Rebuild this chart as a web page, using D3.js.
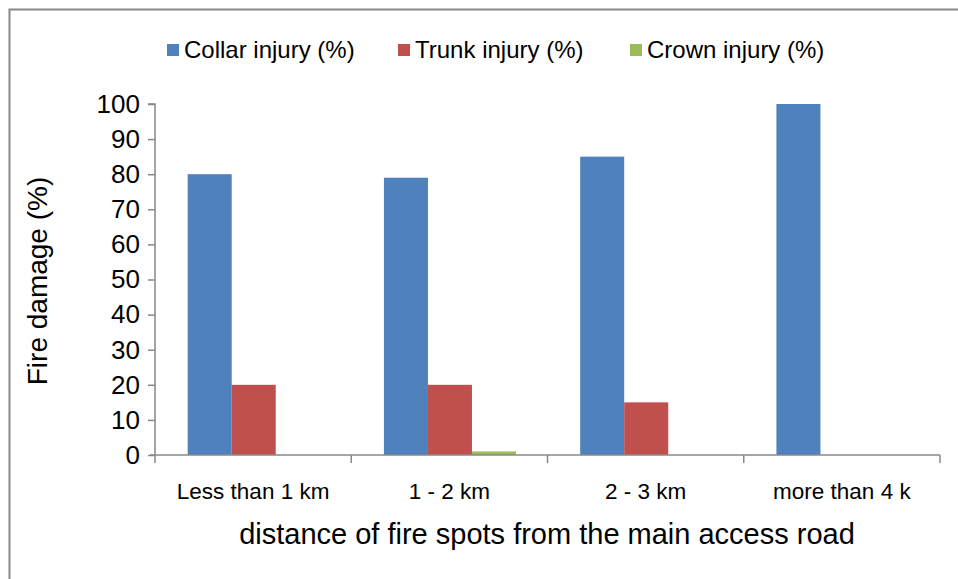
<!DOCTYPE html>
<html><head><meta charset="utf-8">
<script src="https://cdn.jsdelivr.net/npm/d3@7"></script>
<style>body{margin:0;background:#fff}svg{display:block}</style>
</head><body>
<script>
const categories = ["Less than 1 km", "1 - 2 km", "2 - 3 km", "more than 4 k"];
const seriesNames = ["Collar injury (%)", "Trunk injury (%)", "Crown injury (%)"];
const collar = [80, 79, 85, 100];
const trunk = [20, 20, 15, 0];
const crown = [0, 1, 0, 0];
const yTicks = [0, 10, 20, 30, 40, 50, 60, 70, 80, 90, 100];
const colors = ["#4F81BD", "#C0504D", "#9BBB59"];
const seriesValues = [collar, trunk, crown];

const W = 958, H = 579;
const font = "'Liberation Sans', Arial, sans-serif";
const svg = d3.select("body").append("svg").attr("width", W).attr("height", H);

svg.append("rect").attr("x", 9.5).attr("y", 9.5).attr("width", W + 10).attr("height", H + 10)
  .attr("fill", "#fff").attr("stroke", "#888").attr("stroke-width", 2);

const x0 = d3.scaleBand().domain(categories).range([155, 940]);
const y = d3.scaleLinear().domain([0, 100]).range([455, 104]);
const x1 = d3.scaleBand().domain(seriesNames)
  .range([x0.bandwidth() * 0.1665, x0.bandwidth() * 0.8395]);

// bars
categories.forEach((c, i) => {
  seriesNames.forEach((s, j) => {
    const v = seriesValues[j][i];
    if (v <= 0) return;
    svg.append("rect")
      .attr("x", x0(c) + x1(s))
      .attr("y", y(v))
      .attr("width", x1.bandwidth())
      .attr("height", y(0) - y(v))
      .attr("fill", colors[j]);
  });
});

// y axis
const gy = svg.append("g").attr("transform", "translate(155,0)")
  .call(d3.axisLeft(y).tickValues(yTicks).tickSize(7).tickPadding(8));
gy.selectAll("path,line").attr("stroke", "#888").attr("stroke-width", 1.5);
gy.select(".domain").attr("d", `M-7,${y(100)}H0V${y(0)}`);
gy.selectAll("text").attr("font-family", font).attr("font-size", 26).attr("fill", "#000");

// x axis
const gx = svg.append("g").attr("transform", "translate(0,455)");
gx.append("line").attr("x1", 150).attr("x2", x0.range()[1]).attr("y1", 0).attr("y2", 0)
  .attr("stroke", "#888").attr("stroke-width", 1.5);
const bounds = categories.map(c => x0(c)).concat([x0.range()[1]]);
gx.selectAll("line.tk").data(bounds).join("line").attr("class", "tk")
  .attr("x1", d => d).attr("x2", d => d).attr("y1", 0).attr("y2", 8)
  .attr("stroke", "#888").attr("stroke-width", 1.5);
gx.selectAll("text").data(categories).join("text")
  .attr("x", d => x0(d) + x0.bandwidth() / 2).attr("y", 44)
  .attr("text-anchor", "middle").attr("font-family", font).attr("font-size", 22.5)
  .text(d => d);

// titles
svg.append("text").attr("transform", "translate(47,281) rotate(-90)")
  .attr("text-anchor", "middle").attr("font-family", font).attr("font-size", 28)
  .text("Fire damage (%)");
svg.append("text").attr("x", 547).attr("y", 544).attr("text-anchor", "middle")
  .attr("font-family", font).attr("font-size", 29)
  .text("distance of fire spots from the main access road");

// legend
const legX = [167, 398, 630];
seriesNames.forEach((s, j) => {
  svg.append("rect").attr("x", legX[j]).attr("y", 44).attr("width", 12).attr("height", 12).attr("fill", colors[j]);
  svg.append("text").attr("x", legX[j] + 17).attr("y", 58).attr("font-family", font).attr("font-size", 24).text(s);
});
</script>
</body></html>
